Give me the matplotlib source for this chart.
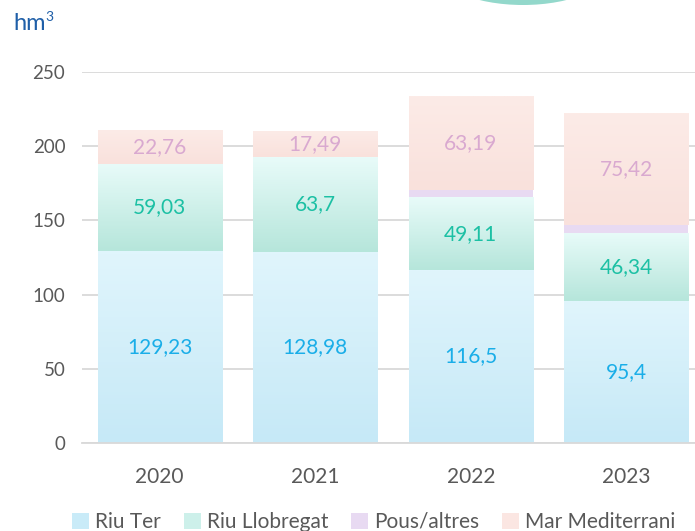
import numpy as np
import matplotlib.pyplot as plt
from matplotlib.patches import Ellipse, Patch
from matplotlib.colors import LinearSegmentedColormap

plt.rcParams['font.family'] = ['Lato', 'DejaVu Sans']

years = ['2020', '2021', '2022', '2023']
riu_ter = [129.23, 128.98, 116.5, 95.4]
riu_llobregat = [59.03, 63.7, 49.11, 46.34]
pous_altres = [0, 0, 5.0, 5.2]
mar_mediterrani = [22.76, 17.49, 63.19, 75.42]

series = [
    ('Riu Ter', riu_ter, '#c9ebf8', '#1aaee8', True),
    ('Riu Llobregat', riu_llobregat, '#cdf0ea', '#1cc0a4', True),
    ('Pous/altres', pous_altres, '#e8daf2', None, False),
    ('Mar Mediterrani', mar_mediterrani, '#fbe6e2', '#d9a9d0', True),
]
# gradient colours (top, bottom) for the textured fills
grads = {
    'Riu Ter': ('#e0f5fc', '#c6e9f7'),
    'Riu Llobregat': ('#e8fbf9', '#b6e6db'),
    'Mar Mediterrani': ('#fcebe7', '#f9e1dc'),
}

fig = plt.figure(figsize=(6.95, 5.31), dpi=100)
ax = fig.add_axes([82/695, 1-443/531, 622/695, 371/531])

x = np.arange(len(years))
bottom = np.zeros(len(years))
for name, vals, col, tcol, show in series:
    vals = np.array(vals, dtype=float)
    bars = ax.bar(x, vals, 0.8, bottom=bottom, color=col, zorder=2, linewidth=0)
    if name in grads:
        c1, c2 = grads[name]
        cmap = LinearSegmentedColormap.from_list(name, [c2, c1])
        for b in bars:
            if b.get_height() <= 0:
                continue
            x0, y0 = b.get_x(), b.get_y()
            grad = np.linspace(0, 1, 64).reshape(-1, 1)
            im = ax.imshow(grad, cmap=cmap, origin='lower', aspect='auto',
                           extent=[x0, x0 + b.get_width(), y0, y0 + b.get_height()],
                           zorder=2.5)
            im.set_clip_path(b)
    if show:
        for xi, v, b0 in zip(x, vals, bottom):
            ax.text(xi, b0 + v / 2, f'{v:g}'.replace('.', ','), ha='center', va='center',
                    color=tcol, fontsize=15, zorder=4)
    bottom += vals

ax.set_xlim(-0.5, 3.5)
ax.set_ylim(0, 250)
ax.set_yticks(range(0, 251, 50))
ax.set_xticks(x)
ax.set_xticklabels(years)
ax.grid(axis='y', color='#d9d9d9', linewidth=1.3, zorder=0)
ax.set_axisbelow(True)
for s in ['top', 'right', 'left']:
    ax.spines[s].set_visible(False)
ax.spines['bottom'].set_color('#d9d9d9')
ax.spines['bottom'].set_linewidth(1.3)
ax.tick_params(length=0, labelcolor='#595959')
ax.tick_params(axis='x', pad=17, labelsize=15)
ax.tick_params(axis='y', pad=12, labelsize=13.5)

fig.text(13/695, 1-23/531, 'hm', color='#1f5fa8', fontsize=17, va='center')
fig.text(45/695, 1-17/531, '3', color='#1f5fa8', fontsize=10, va='center')

handles = [Patch(facecolor=c, edgecolor='none') for _, _, c, _, _ in series]
fig.legend(handles, [s[0] for s in series], loc='center', ncol=4,
           bbox_to_anchor=(374/695, 1-522/531), frameon=False, fontsize=15,
           handlelength=0.8, handleheight=0.8, handletextpad=0.3, columnspacing=1.1,
           labelcolor='#595959')

fig.patches.append(Ellipse((523/695, 1+35/531), 180/695, 80/531, transform=fig.transFigure,
                           facecolor='#93d8cb', edgecolor='none'))

fig.savefig('out.png', dpi=100)
